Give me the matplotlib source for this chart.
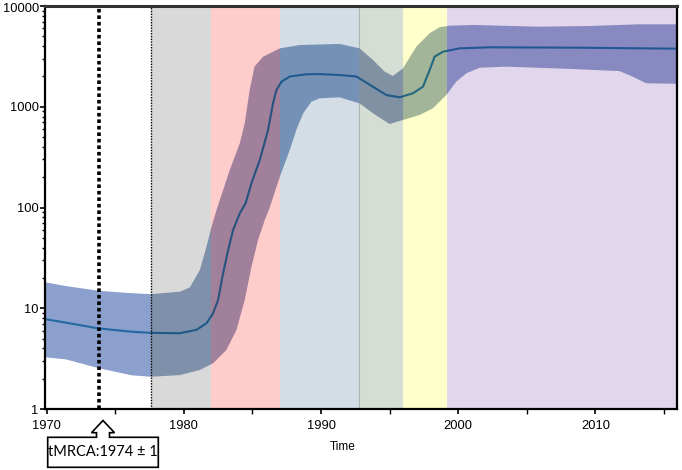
import numpy as np
import matplotlib
matplotlib.use("Agg")
import matplotlib.pyplot as plt
import matplotlib.transforms as mtransforms
from matplotlib.patches import Rectangle, Polygon
from matplotlib.ticker import LogLocator, FixedLocator, NullFormatter

# median effective population size (Bayesian skyline)
med_year = [1969.88, 1971.4, 1973.8, 1976.2, 1977.6, 1979.7, 1980.92, 1981.65, 1982.13,
            1982.5, 1982.86, 1983.23, 1983.59, 1984.08, 1984.5, 1984.93, 1985.54,
            1986.14, 1986.5, 1986.75, 1987.12, 1987.72, 1988.94, 1989.9, 1991.36,
            1992.58, 1993.79, 1994.76, 1995.73, 1996.7, 1997.43, 1997.92, 1998.28,
            1998.89, 2000.1, 2002.3, 2008.35, 2015.95]
med = [7.8, 7.2, 6.3, 5.85, 5.7, 5.65, 6.1, 7.1, 8.9, 12.1, 22.2, 37.8, 59.8, 87.5,
       110, 174, 297, 588, 1080, 1466, 1775, 1995, 2100, 2110, 2066, 1995, 1580, 1308,
       1240, 1360, 1580, 2317, 3140, 3520, 3800, 3890, 3860, 3770]

# upper 95% HPD
up_year = [1969.88, 1971.4, 1973.8, 1976.2, 1977.6, 1979.71, 1980.44, 1981.17, 1981.65,
           1982.02, 1982.38, 1983.35, 1984.08, 1984.44, 1984.8, 1985.15, 1985.78,
           1987.0, 1988.45, 1989.9, 1991.36, 1992.81, 1993.79, 1994.64, 1995.24,
           1995.97, 1996.95, 1997.92, 1998.65, 1999.4, 2001.07, 2005.9, 2009.6,
           2013.2, 2015.95]
up = [18.1, 16.6, 14.9, 14.1, 13.8, 14.6, 16.1, 24, 40.8, 64.5, 94, 236, 434, 685,
      1466, 2500, 3140, 3800, 4100, 4150, 4200, 3800, 2910, 2230, 2020, 2400, 3950,
      5360, 6170, 6380, 6480, 6230, 6330, 6580, 6580]

# lower 95% HPD
low_year = [1969.88, 1971.4, 1973.8, 1976.2, 1977.6, 1979.71, 1981.17, 1982.13, 1983.1,
            1983.84, 1984.44, 1984.93, 1985.41, 1985.9, 1986.26, 1987.0, 1987.72,
            1988.2, 1988.7, 1989.3, 1989.9, 1991.36, 1992.81, 1993.79, 1995.0,
            1995.97, 1997.19, 1998.16, 1999.13, 1999.86, 2000.6, 2001.56, 2003.5,
            2008.35, 2011.75, 2012.72, 2013.7, 2015.95]
low = [3.26, 3.11, 2.54, 2.16, 2.09, 2.17, 2.44, 2.84, 3.85, 6.1, 12.1, 25.8, 47.6, 75,
       100, 202, 372, 588, 861, 1122, 1213, 1240, 1080, 861, 674, 739, 828, 966, 1308,
       1775, 2150, 2440, 2500, 2370, 2260, 1990, 1710, 1690]

# shaded periods (start, end)
period_start = [1969.88, 1977.6, 1982.0, 1987.0, 1992.8, 1996.0, 1999.2]
period_end = [1977.6, 1982.0, 1987.0, 1992.8, 1996.0, 1999.2, 2015.95]
period_color = ["#ffffff", "#d9d9d9", "#ffcccc", "#d3dde6", "#d6ddd5", "#ffffcc", "#e1d6eb"]
hpd_color = ["#8ba0cc", "#7f90ab", "#a0809b", "#7691b6", "#7f91a3", "#a3b598", "#8789c0"]
line_base = np.array([38, 104, 160]) / 255.0

tmrca = 1974
tmrca_hpd_low = 1973.8
tmrca_upper = 1977.6

W, H = 682, 470
fig = plt.figure(figsize=(W / 100, H / 100), dpi=100)
ax = fig.add_axes([45 / W, 1 - 409 / H, 632 / W, 403 / H])
ax.set_yscale("log")
ax.set_xlim(1969.88, 2015.95)
ax.set_ylim(1, 10000)

hpd_x = np.concatenate([up_year, low_year[::-1]])
hpd_y = np.concatenate([up, low[::-1]])

for x0, x1, bg, hc in zip(period_start, period_end, period_color, hpd_color):
    ax.axvspan(x0, x1, color=bg, lw=0, zorder=0)
    poly, = ax.fill(hpd_x, hpd_y, color=hc, lw=0, zorder=1)
    poly.set_clip_path(Rectangle((x0, 0), x1 - x0, 1, transform=ax.get_xaxis_transform()))
    lc = line_base * np.array(matplotlib.colors.to_rgb(bg))
    ln, = ax.plot(med_year, med, color=lc, lw=1.5, zorder=2)
    ln.set_clip_path(Rectangle((x0, 0), x1 - x0, 1, transform=ax.get_xaxis_transform()))

ax.axvline(1992.8, color="#a9b5b0", lw=0.8, zorder=0.5)

ax.axvline(tmrca_hpd_low, color="black", lw=2.6, ls=(0, (1, 0.8)), zorder=3)
ax.axvline(tmrca_upper, color="black", lw=1.0, ls=(0, (1, 1)), zorder=3)

# axes styling
for s in ["left", "bottom", "right"]:
    ax.spines[s].set_linewidth(1.6)
    ax.spines[s].set_color("black")
ax.spines["top"].set_linewidth(2.2)
ax.spines["top"].set_color("#333333")
for sp in ax.spines.values():
    sp.set_zorder(5)

ax.xaxis.set_major_locator(FixedLocator([1970, 1980, 1990, 2000, 2010]))
ax.xaxis.set_minor_locator(FixedLocator([1975, 1985, 1995, 2005, 2015]))
ax.yaxis.set_major_locator(FixedLocator([1, 10, 100, 1000, 10000]))
ax.set_yticklabels(["1", "10", "100", "1000", "10000"])
ax.yaxis.set_minor_locator(LogLocator(base=10, subs=np.arange(2, 10)))
ax.yaxis.set_minor_formatter(NullFormatter())
ax.tick_params(axis="both", which="major", direction="out", length=3.5, width=1.2,
               labelsize=9.3, pad=1)
ax.tick_params(axis="both", which="minor", direction="out", length=2.2, width=1.0)
ax.tick_params(axis="x", which="minor", length=3.5)
ax.tick_params(axis="x", which="major", pad=4.5)
for lab in ax.get_xticklabels() + ax.get_yticklabels():
    lab.set_family("Liberation Sans")
# nudge the top label down so it stays inside the figure
top_lab = ax.get_yticklabels()[-1]
top_lab.set_transform(top_lab.get_transform() +
                      mtransforms.ScaledTranslation(0, -1.5 / 100, fig.dpi_scale_trans))

fig.text(343 / W, 1 - 446.7 / H, "Time", ha="center", va="center",
         fontsize=8.5, family="Liberation Sans")


def px(x, y):
    return (x / W, 1 - y / H)


arrow_box = [px(47.7, 437.3), px(96.5, 437.3), px(96.5, 432.7), px(91.5, 432.7),
             px(103, 420.5), px(114.5, 432.7), px(109.5, 432.7), px(109.5, 437.3),
             px(158.3, 437.3), px(158.3, 467.3), px(47.7, 467.3)]
fig.patches.append(Polygon(arrow_box, closed=True, transform=fig.transFigure,
                           facecolor="white", edgecolor="black", lw=1.2))
fig.text(103 / W, 1 - 452 / H, "tMRCA:%d \u00b1 1" % tmrca, ha="center", va="center",
         fontsize=10.5, family="Lato")

fig.savefig("out.png", dpi=100)
